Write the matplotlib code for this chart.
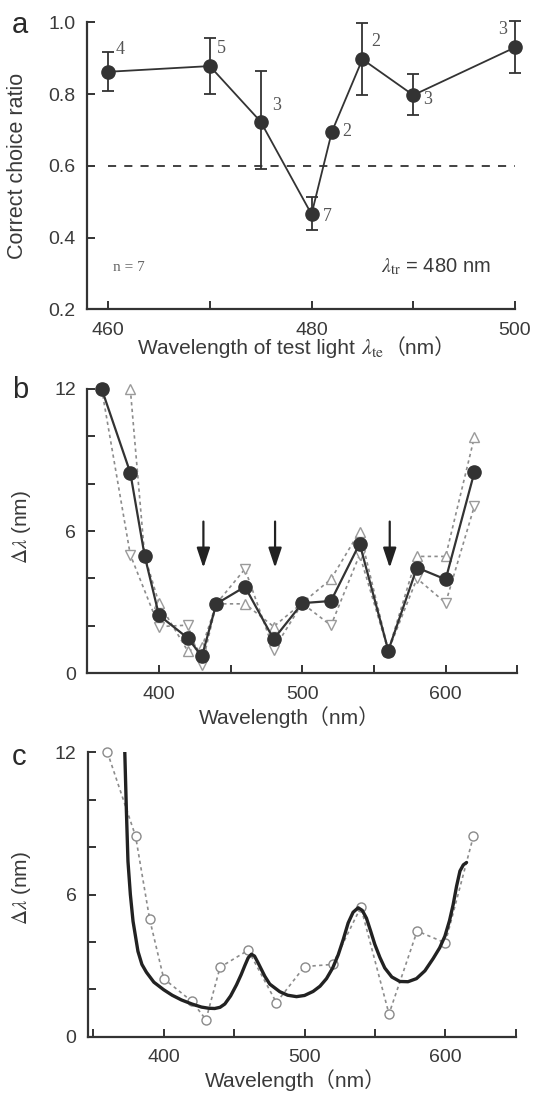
import matplotlib
matplotlib.use("Agg")
import matplotlib.pyplot as plt
from matplotlib.offsetbox import TextArea, HPacker, AnnotationBbox

SANS = "Liberation Sans"
SERIF = "Liberation Serif"
CJK = "Noto Sans CJK JP"
TXT = "#3a3a3a"
INK = "#333333"
GREY = "#8c8c8c"

plt.rcParams["font.family"] = [SANS, CJK]
plt.rcParams["mathtext.fontset"] = "stix"
plt.rcParams["text.color"] = TXT
plt.rcParams["axes.labelcolor"] = TXT
plt.rcParams["xtick.color"] = INK
plt.rcParams["ytick.color"] = INK
plt.rcParams["xtick.labelcolor"] = TXT
plt.rcParams["ytick.labelcolor"] = TXT

# ---- panel a: discrimination test at 480 nm training light ----
test_wl = [460, 470, 475, 480, 482, 485, 490, 500]
ratio = [0.862, 0.878, 0.723, 0.465, 0.695, 0.897, 0.797, 0.930]
err_hi = [0.918, 0.957, 0.865, 0.512, 0.695, 0.998, 0.857, 1.003]
err_lo = [0.808, 0.800, 0.590, 0.422, 0.695, 0.798, 0.742, 0.860]
n_sessions = ["4", "5", "3", "7", "2", "2", "3", "3"]
label_offsets = [(12, 22), (12, 18), (16, 16), (16, -2), (15, 0), (13, 18), (14, -4), (-12, 18)]
criterion = 0.6

# ---- panel b: wavelength discrimination, two animals and their mean ----
wl = [360, 380, 390, 400, 420, 430, 440, 460, 480, 500, 520, 540, 560, 580, 600, 620]
dl_mean = [12.0, 8.46, 4.96, 2.45, 1.49, 0.72, 2.93, 3.65, 1.44, 2.96, 3.05, 5.47, 0.96, 4.46, 3.96, 8.47]
wl_up = [380, 390, 400, 420, 430, 440, 460, 480, 500, 520, 540, 560, 580, 600, 620]
dl_up = [12.0, 4.96, 2.96, 0.95, 1.10, 2.93, 2.93, 1.97, 2.97, 3.97, 5.98, 0.96, 4.93, 4.93, 9.95]
wl_down = [360, 380, 400, 420, 430, 440, 460, 480, 500, 520, 540, 560, 580, 600, 620]
dl_down = [12.0, 5.0, 1.97, 2.03, 0.35, 2.93, 4.40, 1.00, 2.95, 2.02, 5.00, 0.95, 4.00, 2.97, 7.04]
arrow_wl = [431, 481, 561]
arrow_top, arrow_tip = 6.4, 4.45

# ---- panel c: model curve over the mean data ----
fit_wl = [372.3, 373.5, 374.6, 376.3, 378.2, 381.7, 384.5, 387.7, 393.0, 400.0, 406.0,
          412.6, 420.0, 426.8, 432.0, 436.2, 440.0, 443.4, 447.5, 451.7, 455.0, 457.6,
          460.0, 462.3, 464.5, 467.0, 471.8, 475.3, 482.4, 488.0, 494.3, 500.0, 506.1,
          511.0, 515.6, 520.0, 523.9, 527.5, 531.0, 534.5, 538.1, 541.0, 544.0, 547.0,
          549.9, 553.5, 557.0, 562.0, 567.7, 573.5, 579.5, 585.5, 591.4, 596.0, 599.7,
          603.0, 605.6, 608.0, 610.4, 612.8, 615.1]
fit_dl = [12.1, 9.5, 7.4, 6.0, 4.87, 3.6, 3.05, 2.72, 2.3, 1.98, 1.75,
          1.55, 1.38, 1.25, 1.2, 1.19, 1.24, 1.38, 1.72, 2.19, 2.62, 3.0,
          3.33, 3.48, 3.40, 3.12, 2.55, 2.22, 1.9, 1.75, 1.69, 1.74, 1.91,
          2.13, 2.45, 2.9, 3.45, 4.1, 4.8, 5.25, 5.44, 5.33, 5.0, 4.45,
          3.9, 3.35, 2.9, 2.52, 2.33, 2.32, 2.45, 2.78, 3.3, 3.75, 4.24,
          4.9, 5.58, 6.35, 6.99, 7.25, 7.35]

W, H = 533, 1093
fig = plt.figure(figsize=(W / 100, H / 100), dpi=100)


def frame(left, right, top, bottom):
    return fig.add_axes([left / W, 1 - bottom / H, (right - left) / W, (bottom - top) / H])


def style(ax):
    for s in ("top", "right"):
        ax.spines[s].set_visible(False)
    for s in ("left", "bottom"):
        ax.spines[s].set_linewidth(1.6)
        ax.spines[s].set_color(INK)
    ax.tick_params(direction="in", length=6, width=1.4, labelsize=14)
    ax.tick_params(axis="x", pad=9)
    ax.tick_params(axis="y", pad=8)


# panel a
axa = frame(86.7, 515, 22.3, 309.3)
style(axa)
axa.set_xlim(457.9, 500)
axa.set_ylim(0.2, 1.0)
axa.set_xticks([460, 470, 480, 490, 500])
axa.set_xticklabels(["460", "", "480", "", "500"])
axa.set_yticks([0.2, 0.4, 0.6, 0.8, 1.0])
axa.set_yticklabels(["0.2", "0.4", "0.6", "0.8", "1.0"])
axa.plot([460, 500], [criterion, criterion], ls=(0, (4.5, 4.5)), color=INK, lw=1.3)
lower = [r - lo for r, lo in zip(ratio, err_lo)]
upper = [hi - r for r, hi in zip(ratio, err_hi)]
axa.errorbar(test_wl, ratio, yerr=[lower, upper], fmt="none", ecolor=INK,
             elinewidth=1.3, capsize=4, capthick=1.3, clip_on=False, zorder=3)
axa.plot(test_wl, ratio, "-o", color=INK, lw=1.3, ms=9.5, mfc=INK, mec=INK,
         clip_on=False, zorder=4)
for x, y, t, off in zip(test_wl, ratio, n_sessions, label_offsets):
    axa.annotate(t, (x, y), xytext=off, textcoords="offset pixels", ha="center",
                 va="center", family=SERIF, fontsize=13, color="#555555")
axa.text(0.098, 0.147, "n = 7", transform=axa.transAxes, ha="center", va="center",
         family=SERIF, fontsize=11, color="#666666")
axa.text(0.942, 0.15, r"$\lambda_{\rm tr}$ = 480 nm", transform=axa.transAxes,
         ha="right", va="center", fontsize=14.5, color=TXT)
axa.set_ylabel("Correct choice ratio", fontsize=15.5)
axa.yaxis.set_label_coords(-0.136, 0.5)
xlab = HPacker(children=[
    TextArea("Wavelength of test light ", textprops=dict(family=SANS, size=15, color=TXT)),
    TextArea(r"$\lambda_{\rm te}$", textprops=dict(size=16, color=TXT)),
    TextArea("（nm）", textprops=dict(family=[SANS, CJK], size=15, color=TXT)),
], align="baseline", pad=0, sep=0)
axa.add_artist(AnnotationBbox(xlab, (0.49, -0.095), xycoords="axes fraction",
                              frameon=False, box_alignment=(0.5, 1), pad=0))

# panel b
axb = frame(87.3, 517.3, 388.8, 673.3)
style(axb)
axb.set_xlim(350, 650)
axb.set_ylim(0, 12)
axb.set_xticks([400, 450, 500, 550, 600, 650])
axb.set_xticklabels(["400", "", "500", "", "600", ""])
axb.set_yticks([0, 2, 4, 6, 8, 10, 12])
axb.set_yticklabels(["0", "", "", "6", "", "", "12"])
axb.plot(wl_up, dl_up, ls=(0, (2, 2)), color=GREY, lw=1.2, marker="^", ms=7.5,
         mfc="white", mec="#9a9a9a", mew=1.0, clip_on=False, zorder=2)
axb.plot(wl_down, dl_down, ls=(0, (2, 2)), color=GREY, lw=1.2, marker="v", ms=7.5,
         mfc="white", mec="#9a9a9a", mew=1.0, clip_on=False, zorder=2)
axb.plot(wl, dl_mean, "-o", color=INK, lw=1.6, ms=9.5, mfc=INK, mec=INK,
         clip_on=False, zorder=4)
for x in arrow_wl:
    axb.annotate("", xy=(x, arrow_tip), xytext=(x, arrow_top),
                 arrowprops=dict(arrowstyle="-|>,head_length=1.2,head_width=0.4",
                                 color="#222222", lw=1.6, shrinkA=0, shrinkB=0))
axb.set_ylabel(r"$\mathit{\Delta\lambda}$ (nm)", fontsize=15)
axb.yaxis.set_label_coords(-0.126, 0.515)
axb.set_xlabel("Wavelength（nm）", fontsize=15, labelpad=3)
axb.xaxis.set_label_coords(0.47, -0.115)

# panel c
axc = frame(87.7, 515.7, 752.3, 1036.7)
style(axc)
axc.set_xlim(346, 650)
axc.set_ylim(0, 12)
axc.set_xticks([350, 400, 450, 500, 550, 600, 650])
axc.set_xticklabels(["", "400", "", "500", "", "600", ""])
axc.set_yticks([0, 2, 4, 6, 8, 10, 12])
axc.set_yticklabels(["0", "", "", "6", "", "", "12"])
axc.plot(wl, dl_mean, ls=(0, (2, 2)), color=GREY, lw=1.2, marker="o", ms=6.5,
         mfc="white", mec="#8a8a8a", mew=1.0, clip_on=False, zorder=2)
axc.plot(fit_wl, fit_dl, "-", color="#222222", lw=2.4, solid_capstyle="round", zorder=3)
axc.set_ylabel(r"$\mathit{\Delta\lambda}$ (nm)", fontsize=15)
axc.yaxis.set_label_coords(-0.128, 0.523)
axc.set_xlabel("Wavelength（nm）", fontsize=15)
axc.xaxis.set_label_coords(0.485, -0.115)

# panel letters
for letter, y in (("a", 33), ("b", 398), ("c", 765)):
    fig.text(12 / W, 1 - y / H, letter, fontsize=21, color="#2a2a2a",
             ha="left", va="baseline")

fig.savefig("out.png", dpi=100)
